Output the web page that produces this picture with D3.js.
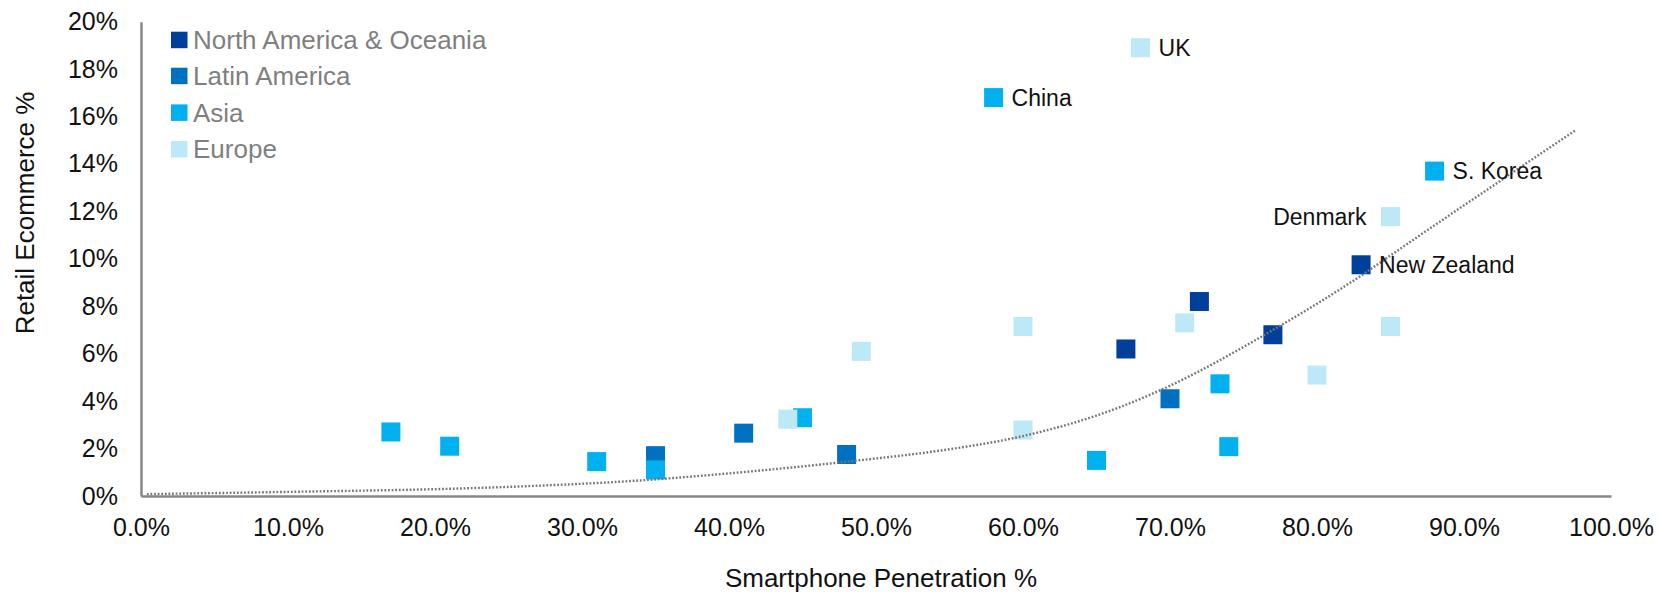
<!DOCTYPE html>
<html>
<head>
<meta charset="utf-8">
<script src="https://cdn.jsdelivr.net/npm/d3@7"></script>
<style>
  html, body { margin: 0; padding: 0; background: #fff; }
  svg { display: block; font-family: "Liberation Sans", Arial, sans-serif; }
</style>
</head>
<body>
<svg id="chart" width="1658" height="592"></svg>
<script>
// Smartphone penetration (%) vs retail ecommerce share (%), one array per region.
// Third element, when present, is the country name printed beside the marker.
const northAmericaOceania = [[67, 6.2], [72, 8.2], [77, 6.8], [83, 9.75, "New Zealand"]];
const latinAmerica = [[35, 1.7], [41, 2.65], [48, 1.75], [70, 4.1]];
const asia = [[17, 2.7], [21, 2.1], [31, 1.45], [35, 1.1], [45, 3.3], [58, 16.8, "China"],
              [65, 1.5], [73.4, 4.73], [74, 2.08], [88, 13.7, "S. Korea"]];
const europe = [[44, 3.24], [49, 6.1], [60, 7.15], [60, 2.78], [68, 18.9, "UK"], [71, 7.3],
                [80, 5.1], [85, 7.15], [85, 11.78, "Denmark"]];

const regionNames = ["North America & Oceania", "Latin America", "Asia", "Europe"];
const regionColors = ["#003f9a", "#0071c1", "#00b0ef", "#bde8f7"];
const regionData = [northAmericaOceania, latinAmerica, asia, europe];

// Names whose label sits to the left of the marker
const leftLabels = ["Denmark"];

// Trend curve, sampled along its path
const trendPen  = [0.4, 10.6, 21.9, 26.5, 33.3, 41.7, 48.5, 55.3, 59.8, 66.6, 69.3, 77.0, 83.4, 85.6, 92.9, 97.55];
const trendEcom = [0.08, 0.18, 0.32, 0.42, 0.63, 1.05, 1.48, 2.0, 2.5, 3.75, 4.45, 7.0, 9.46, 10.4, 13.47, 15.41];

const xTicks = d3.range(0, 101, 10);
const yTicks = d3.range(0, 21, 2);

const svg = d3.select("#chart");

const x = d3.scaleLinear().domain([0, 100]).range([141, 1611]);
const y = d3.scaleLinear().domain([0, 20]).range([496, 21.7]);

const axisColor = "#878787";

// Axes
const gx = svg.append("g").attr("transform", `translate(0,${y(0)})`)
  .call(d3.axisBottom(x).tickValues(xTicks).tickSize(0).tickPadding(22)
        .tickFormat(d => d.toFixed(1) + "%"));
const gy = svg.append("g").attr("transform", `translate(${x(0)},0)`)
  .call(d3.axisLeft(y).tickValues(yTicks).tickSize(0).tickPadding(23)
        .tickFormat(d => d + "%"));

[gx, gy].forEach(g => {
  g.select(".domain").attr("stroke", axisColor).attr("stroke-width", 2.5);
  g.selectAll(".tick text").attr("font-size", 25).attr("fill", "#111")
    .attr("font-family", "'Liberation Sans', Arial, sans-serif");
});

// Axis titles
svg.append("text")
  .attr("x", 881).attr("y", 578).attr("dy", "0.35em")
  .attr("text-anchor", "middle").attr("font-size", 26).attr("fill", "#111")
  .text("Smartphone Penetration %");
svg.append("text")
  .attr("transform", "translate(25,213) rotate(-90)")
  .attr("dy", "0.35em")
  .attr("text-anchor", "middle").attr("font-size", 26).attr("fill", "#111")
  .text("Retail Ecommerce %");

// Markers
const size = 19;
regionData.forEach((pts, i) => {
  svg.append("g").selectAll("rect").data(pts).join("rect")
    .attr("x", d => x(d[0]) - size / 2)
    .attr("y", d => y(d[1]) - size / 2)
    .attr("width", size).attr("height", size)
    .attr("fill", regionColors[i]);
});

// Trend line (dotted)
const trend = trendPen.map((p, i) => [p, trendEcom[i]]);
const trendLine = d3.line()
  .x(d => x(d[0]))
  .y(d => y(d[1]))
  .curve(d3.curveMonotoneX);
svg.append("path")
  .datum(trend)
  .attr("fill", "none")
  .attr("stroke", "#767676")
  .attr("stroke-width", 2.4)
  .attr("stroke-dasharray", "1.8 1.8")
  .attr("d", trendLine);

// Country labels
regionData.forEach(pts => {
  pts.filter(d => d[2]).forEach(d => {
    const left = leftLabels.includes(d[2]);
    svg.append("text")
      .attr("x", x(d[0]) + (left ? -24 : 18))
      .attr("y", y(d[1]))
      .attr("dy", "0.35em")
      .attr("text-anchor", left ? "end" : "start")
      .attr("font-size", 23).attr("fill", "#111")
      .text(d[2]);
  });
});

// Legend
const legend = svg.append("g").attr("transform", "translate(171,0)");
const legendRowY = [40, 76, 112.7, 149.3];
regionNames.forEach((name, i) => {
  legend.append("rect")
    .attr("x", 0).attr("y", legendRowY[i] - 8.3)
    .attr("width", 16.5).attr("height", 16.5)
    .attr("fill", regionColors[i]);
  legend.append("text")
    .attr("x", 22).attr("y", legendRowY[i]).attr("dy", "0.35em")
    .attr("font-size", 26).attr("fill", "#7f7f7f")
    .text(name);
});
</script>
</body>
</html>
